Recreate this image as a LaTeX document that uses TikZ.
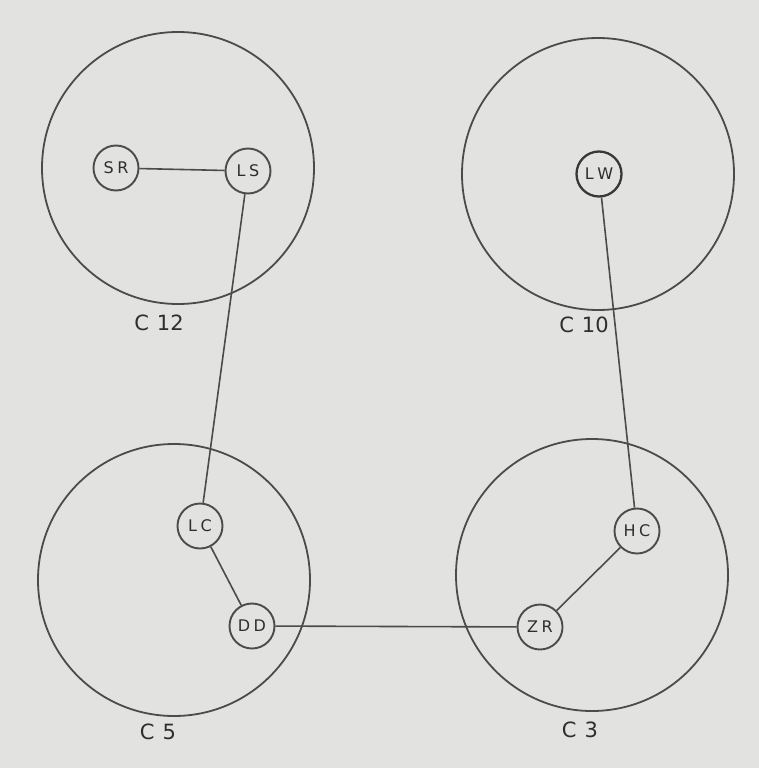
\documentclass[tikz,border=0pt]{standalone}
\usepackage{fontspec}
\setmainfont{DejaVu Sans}
\definecolor{paper}{RGB}{226,226,224}
\definecolor{ink}{RGB}{75,75,75}
\newcommand{\gap}{\hspace{3.5pt}}
\begin{document}
\begin{tikzpicture}[x=1pt,y=-1pt,
  group/.style={circle,draw=ink,line width=1.8pt,minimum size=272pt,inner sep=0pt},
  person/.style={circle,draw=ink,line width=1.9pt,minimum size=45pt,inner sep=0pt,font=\fontsize{16}{18}\selectfont,text=black!82},
  tie/.style={draw=ink,line width=1.6pt},
  glabel/.style={font=\fontsize{21}{23}\selectfont,text=black!82}]
\fill[paper] (0,0) rectangle (759,768);
\useasboundingbox (0,0) rectangle (759,768);
\node[group] (g12) at (178,168) {};
\node[group] (g10) at (598,174) {};
\node[group] (g5) at (174,580) {};
\node[group] (g3) at (592,575) {};
\node[glabel] (l12) at (159,323) {C\hspace{8pt}12};
\node[glabel] (l10) at (584,325) {C\hspace{8pt}10};
\node[glabel] (l5) at (158,732) {C\hspace{8pt}5};
\node[glabel] (l3) at (580,730) {C\hspace{8pt}3};
\node[person] (SR) at (116,168) {S\gap R};
\node[person] (LS) at (248,171) {L\gap S};
\node[person,line width=2.3pt,draw=black!78] (LW) at (599,174) {L\gap W};
\node[person] (LC) at (200,526) {L\gap C};
\node[person] (DD) at (252,626) {D\gap D};
\node[person] (HC) at (637,531) {H\gap C};
\node[person] (ZR) at (540,627) {Z\gap R};
\draw[tie] (SR) -- (LS);
\draw[tie] (LS) -- (LC);
\draw[tie] (LW) -- (HC);
\draw[tie] (LC) -- (DD);
\draw[tie] (DD) -- (ZR);
\draw[tie] (ZR) -- (HC);
\end{tikzpicture}
\end{document}
